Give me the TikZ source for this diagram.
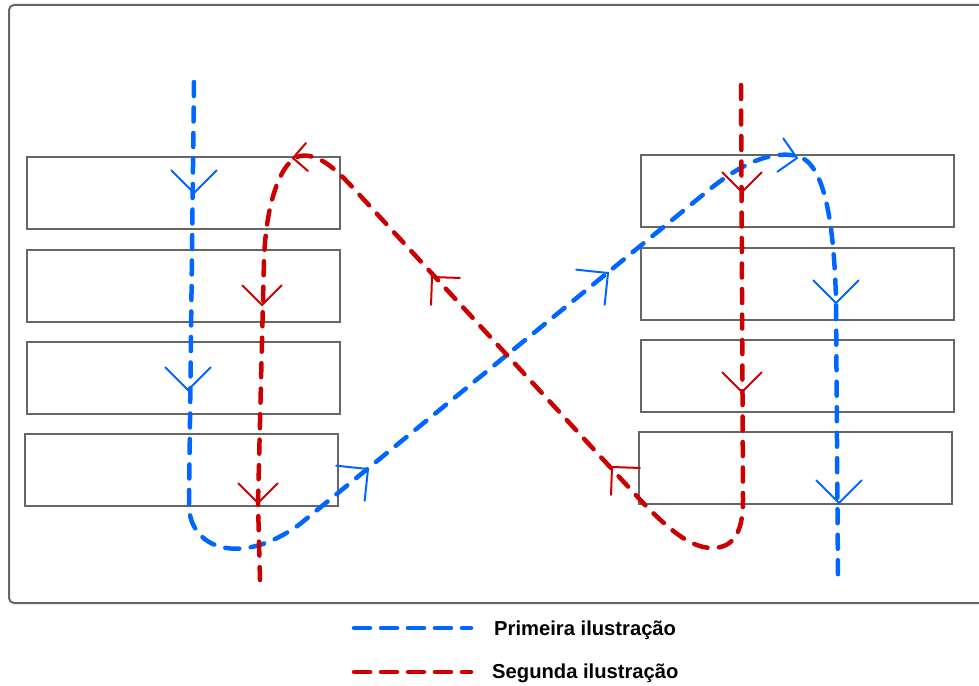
\documentclass[tikz,border=0pt]{standalone}
\usepackage{fontspec}
\setmainfont{Liberation Sans}
\definecolor{bl}{RGB}{0,102,255}
\definecolor{rd}{RGB}{204,0,0}
\definecolor{frm}{RGB}{102,102,102}
\tikzset{
  box/.style={draw=frm, line width=2pt, minimum width=313pt, minimum height=72pt, inner sep=0pt, outer sep=0pt},
  pathline/.style={line width=4.5pt, line cap=round, dash pattern=on 14pt off 11.5pt},
  legline/.style={line width=4.5pt, line cap=round, dash pattern=on 16pt off 11pt},
  chevline/.style={line width=2pt, line cap=round, line join=miter},
  chev/.pic={\draw[chevline] (-22.6,22.6) -- (0,0) -- (-22.6,-22.6);},
  legtext/.style={anchor=base west, inner sep=0pt, font=\bfseries\fontsize{20.2}{24}\selectfont},
}
\begin{document}
\begin{tikzpicture}[x=1pt,y=-1pt]
\useasboundingbox (0,0) rectangle (979,685);
\draw[draw=frm, line width=2pt, rounded corners=5pt] (9,5) rectangle (1000,603);
% left boxes
\node[box] (L1) at (183.5,193) {};
\node[box] (L2) at (183.5,286) {};
\node[box] (L3) at (183.5,377.5) {};
\node[box] (L4) at (181.5,470) {};
% right boxes
\node[box] (R1) at (797.5,191) {};
\node[box] (R2) at (797.5,284) {};
\node[box] (R3) at (797.5,375.5) {};
\node[box] (R4) at (795.5,468) {};
% blue path
\draw[pathline, color=bl] (194,82) -- (189,505) .. controls (189,548) and (240,568) .. (300,524) -- (710,189) .. controls (740,165) and (770,150) .. (797,156) .. controls (825,162) and (834,225) .. (836,300) -- (838,582);
% red path
\draw[pathline, color=rd] (741,85) -- (743,500) .. controls (743,530) and (735,548) .. (712,548) .. controls (690,548) and (668,528) .. (645,505) -- (355,190) .. controls (335,168) and (318,153) .. (300,156) .. controls (282,160) and (266,200) .. (264,260) -- (258,503) -- (260,580);
% blue chevrons
\pic[color=bl, rotate=-90] at (194,193) {chev};
\pic[color=bl, rotate=-90] at (188,390) {chev};
\pic[color=bl, rotate=39] at (368,469) {chev};
\pic[color=bl, rotate=39] at (608,273) {chev};
\pic[color=bl, rotate=-10, scale=0.75] at (797,158) {chev};
\pic[color=bl, rotate=-90] at (836,303) {chev};
\pic[color=bl, rotate=-90] at (839,503) {chev};
% red chevrons
\pic[color=rd, rotate=-90, scale=0.875] at (742,192) {chev};
\pic[color=rd, rotate=-90, scale=0.875] at (742,392) {chev};
\pic[color=rd, rotate=133, scale=0.875] at (612,467) {chev};
\pic[color=rd, rotate=133, scale=0.875] at (432,277) {chev};
\pic[color=rd, rotate=184, scale=0.62] at (293,158) {chev};
\pic[color=rd, rotate=-90, scale=0.875] at (262,305) {chev};
\pic[color=rd, rotate=-90, scale=0.875] at (258,503) {chev};
% legend
\coordinate (b1) at (354,628);
\coordinate (b2) at (471,628);
\coordinate (r1) at (354,672);
\coordinate (r2) at (471,672);
\draw[legline, color=bl] (b1) -- (b2);
\draw[legline, color=rd] (r1) -- (r2);
\node[legtext] (t1) at (494,635) {Primeira ilustração};
\node[legtext] (t2) at (492,678) {Segunda ilustração};
\end{tikzpicture}
\end{document}
